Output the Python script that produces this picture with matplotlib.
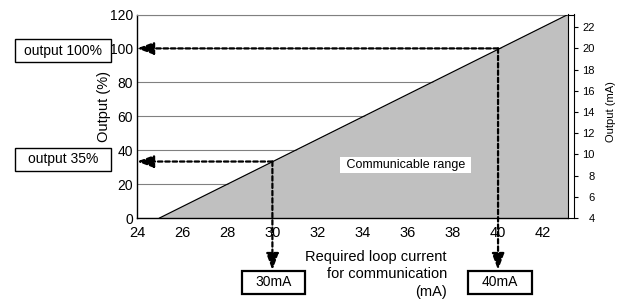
import numpy as np
import matplotlib.pyplot as plt
from matplotlib.patches import Rectangle

plt.rcParams['font.family'] = ['Liberation Sans', 'DejaVu Sans']

# data
x_ticks      = [24, 26, 28, 30, 32, 34, 36, 38, 40, 42]
y_ticks      = [0, 20, 40, 60, 80, 100, 120]
ma_ticks     = [4, 6, 8, 10, 12, 14, 16, 18, 20, 22]
range_x      = [25, 43.1]      # required loop current (mA)
range_y      = [0, 120]        # output (%)
marks_x      = [30, 40]        # required current for the marked outputs
marks_y      = [33.3, 100]     # output level where the dashed lines meet the edge
mark_labels  = ['30mA', '40mA']
out_labels   = ['output 35%', 'output 100%']

W, H = 629, 302
fig = plt.figure(figsize=(W / 100, H / 100), dpi=100)

def fx(px):
    return px / W

def fy(py):
    return 1 - py / H

ax = fig.add_axes([fx(137), fy(218), fx(568) - fx(137), fy(14.5) - fy(218)])
ax.set_xlim(24, range_x[1])
ax.set_ylim(0, 120)

ax.fill_between(range_x, [0, 0], range_y, color='#c0c0c0', zorder=2, lw=0)
ax.plot(range_x, range_y, color='k', lw=0.9, zorder=3)

ax.set_yticks(y_ticks)
ax.set_xticks(x_ticks)
ax.grid(axis='y', color='#808080', lw=0.8)
ax.set_axisbelow(True)
ax.tick_params(axis='y', length=0, pad=3, labelsize=10)
ax.tick_params(axis='x', length=0, pad=6, labelsize=10.5)
ax.spines['top'].set_color('#808080')
ax.spines['right'].set_visible(False)
for s in ['left', 'bottom']:
    ax.spines[s].set_linewidth(1.0)

# thin right axis strip in mA
ax2 = fig.add_axes([fx(568), fy(218), fx(574) - fx(568), fy(14.5) - fy(218)])
ax2.set_xticks([])
ax2.set_ylim(4, 4 + 16 * 1.2)
ax2.yaxis.tick_right()
ax2.set_yticks(ma_ticks)
ax2.tick_params(axis='y', length=3, width=0.8, pad=12, labelsize=8)
for lbl in ax2.get_yticklabels():
    lbl.set_horizontalalignment('right')
for s in ax2.spines.values():
    s.set_linewidth(0.8)

arrow = dict(arrowstyle='-|>,head_length=1.0,head_width=0.37', color='k',
             lw=1.6, linestyle=(0, (2, 1.3)), shrinkA=0, shrinkB=0)
tip_y = -30.7
for mx, my in zip(marks_x, marks_y):
    ax.annotate('', xy=(24, my), xytext=(mx, my), arrowprops=arrow,
                annotation_clip=False, zorder=5)
    ax.annotate('', xy=(mx, tip_y), xytext=(mx, my), arrowprops=arrow,
                annotation_clip=False, zorder=5)

ax.text(35.9, 31.3, ' Communicable range ', fontsize=9, ha='center', va='center',
        zorder=6, bbox=dict(boxstyle='square,pad=0.18', fc='white', ec='none'))

def box(x0, y0, x1, y1, text, lw):
    fig.add_artist(Rectangle((fx(x0), fy(y1)), fx(x1) - fx(x0), fy(y0) - fy(y1),
                             transform=fig.transFigure, fc='white', ec='k', lw=lw))
    fig.text(fx((x0 + x1) / 2), fy((y0 + y1) / 2), text, ha='center', va='center',
             fontsize=10)

box(15, 39, 111, 62, out_labels[1], 1.0)
box(15, 148, 111, 171, out_labels[0], 1.0)
box(242, 271, 305, 294, mark_labels[0], 1.6)
box(468, 271, 532, 294, mark_labels[1], 1.6)

fig.text(fx(104), fy(106), 'Output (%)', rotation=90, ha='center', va='center',
         fontsize=10.5)
fig.text(fx(611), fy(112), 'Output (mA)', rotation=90, ha='center', va='center',
         fontsize=8)
fig.text(fx(447), fy(250), 'Required loop current\nfor communication\n(mA)',
         ha='right', va='top', multialignment='right', fontsize=10.5,
         linespacing=1.3)

fig.savefig('out.png', dpi=100)
